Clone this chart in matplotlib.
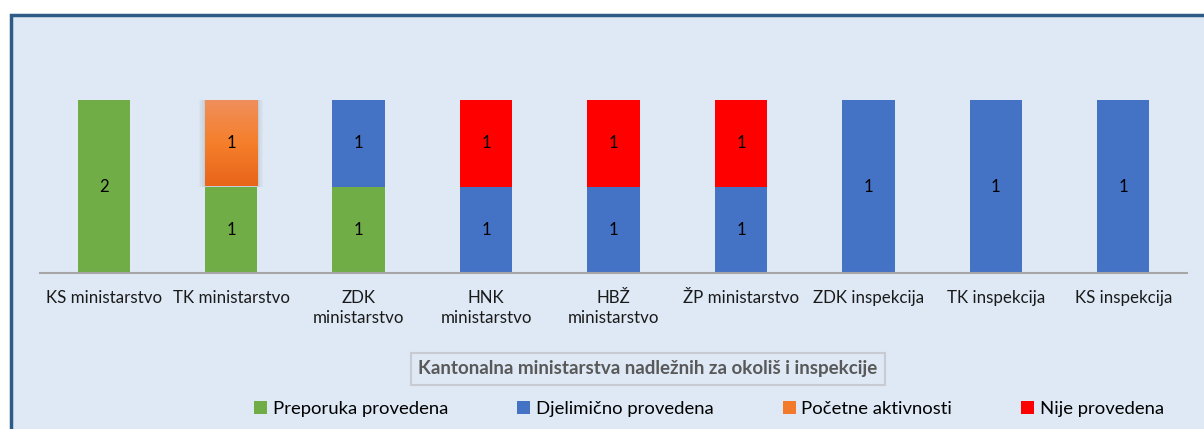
import matplotlib
matplotlib.use("Agg")
import matplotlib.pyplot as plt
import numpy as np
from matplotlib.patches import Rectangle, Patch
from matplotlib.colors import LinearSegmentedColormap

categories = ["KS ministarstvo", "TK ministarstvo", "ZDK\nministarstvo", "HNK\nministarstvo",
              "HBŽ\nministarstvo", "ŽP ministarstvo", "ZDK inspekcija", "TK inspekcija", "KS inspekcija"]
preporuka = [2, 1, 1, 0, 0, 0, 0, 0, 0]
djelimicno = [0, 0, 1, 1, 1, 1, 1, 1, 1]
pocetne = [0, 1, 0, 0, 0, 0, 0, 0, 0]
nije = [0, 0, 0, 1, 1, 1, 0, 0, 0]
series_names = ["Preporuka provedena", "Djelimično provedena", "Početne aktivnosti", "Nije provedena"]
colors = ["#70AD47", "#4472C4", "#F37A2A", "#FF0000"]
title = "Kantonalna ministarstva nadležnih za okoliš i inspekcije"

plt.rcParams['font.family'] = ['Lato', 'DejaVu Sans']

W, H = 1204, 429
fig = plt.figure(figsize=(W / 100, H / 100), dpi=100)
fig.patch.set_facecolor("white")

# outer chart frame
frame = Rectangle((10.5 / W, -0.1), 1.2, 1 - 15.5 / H + 0.1, transform=fig.transFigure,
                  facecolor="#DEE9F5", edgecolor="#2E5A88", linewidth=2.5, zorder=-5)
fig.patches.append(frame)

ax = fig.add_axes([40 / W, 1 - 273 / H, (1187 - 40) / W, (273 - 100) / H])
ax.set_facecolor("none")
ax.set_zorder(2)

data = np.array([preporuka, djelimicno, pocetne, nije], dtype=float)
totals = data.sum(axis=0)
frac = data / totals
x = np.arange(len(categories))
width = 0.41
bottom = np.zeros(len(categories))
for i, name in enumerate(series_names):
    for j in range(len(categories)):
        if data[i, j] <= 0:
            continue
        b = bottom[j]
        h = frac[i, j]
        if i == 2:
            # gradient orange segment with soft shadow
            for k, a in enumerate([0.06, 0.05, 0.04, 0.03]):
                d = 0.012 * (k + 1)
                ax.add_patch(Rectangle((x[j] - width / 2 - d, b), width + 2 * d, h + d * 1.5,
                                       facecolor="#555555", alpha=a, edgecolor="none", zorder=1))
            grad = np.linspace(0, 1, 100).reshape(-1, 1)
            cmap = LinearSegmentedColormap.from_list("og", ["#E8651A", "#F57F2B", "#F08F5C"])
            ax.imshow(grad, extent=(x[j] - width / 2, x[j] + width / 2, b, b + h), origin="lower",
                      cmap=cmap, aspect="auto", zorder=2)
        else:
            ax.bar(x[j], h, width, bottom=b, color=colors[i], zorder=2, linewidth=0)
        ax.text(x[j], b + h / 2, f"{int(data[i, j])}", ha="center", va="center",
                fontsize=12, color="black", zorder=4)
    bottom += frac[i]

ax.set_xlim(-0.5, len(categories) - 0.5)
ax.set_ylim(0, 1)
ax.set_yticks([])
for s in ["top", "right", "left"]:
    ax.spines[s].set_visible(False)
ax.spines["bottom"].set_color("#A6A6A6")
ax.spines["bottom"].set_linewidth(1.5)
ax.spines["bottom"].set_zorder(5)
ax.set_xticks(x)
ax.set_xticklabels(categories, fontsize=12.2, color="#1A1A1A", linespacing=1.3)
ax.tick_params(axis="x", length=0, pad=12)

fig.text(648 / W, 1 - 368.5 / H, title, ha="center", va="center", fontsize=13.5,
         fontweight="bold", color="#595959",
         bbox=dict(boxstyle="square,pad=0.4", facecolor="none", edgecolor="#C8CCD2", linewidth=1.5))

handles = [Patch(facecolor=c, edgecolor="none") for c in colors]
leg = fig.legend(handles, series_names, loc="center", bbox_to_anchor=(709 / W, 1 - 409 / H),
                 ncol=4, frameon=False, fontsize=13.3, handlelength=0.7, handleheight=0.7,
                 handletextpad=0.3, columnspacing=3.75)

fig.savefig("out.png", dpi=100, facecolor=fig.get_facecolor())
